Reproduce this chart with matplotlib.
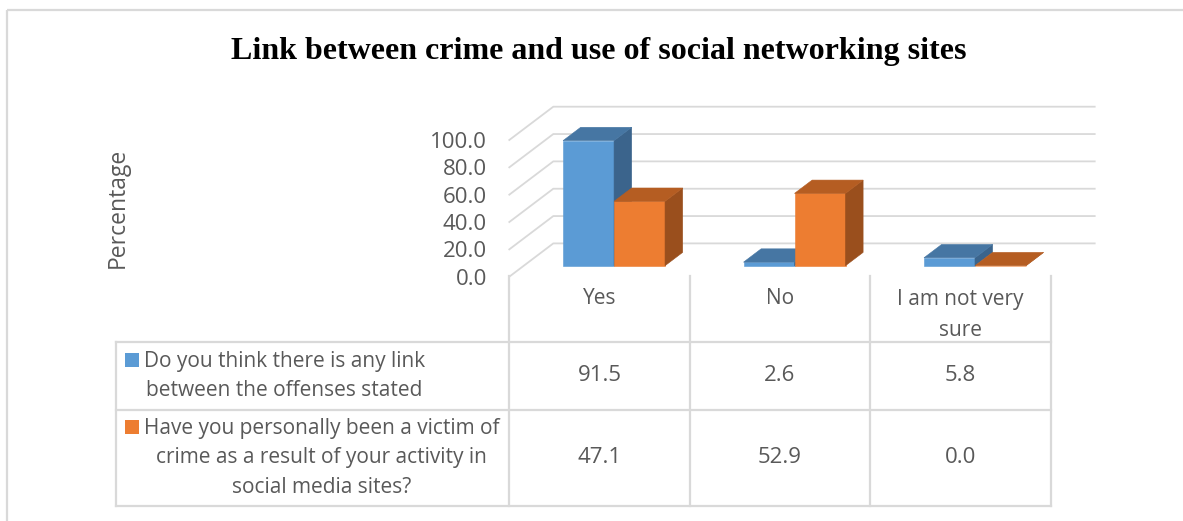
import matplotlib
matplotlib.use("Agg")
import matplotlib.pyplot as plt
from matplotlib.patches import Polygon, Rectangle

# --- data ---------------------------------------------------------------------
TITLE = "Link between crime and use of social networking sites"
categories = ["Yes", "No", "I am not very\nsure"]
series_labels = [
    "Do you think there is any link\nbetween the offenses stated",
    "Have you personally been a victim of\ncrime as a result of your activity in\nsocial media sites?",
]
link_values = [91.5, 2.6, 5.8]
victim_values = [47.1, 52.9, 0.0]
y_ticks = [0, 20, 40, 60, 80, 100]

# --- look ---------------------------------------------------------------------
W, H = 1183, 521
TEXT = "#595959"
GRID = "#D9D9D9"
FONT = "Open Sans"
LABEL_SIZE = 15
NUM_SIZE = 16
LINE_PX = 31       # line pitch of wrapped labels, pixels
# (front, top, side) shades for the pseudo-3D columns
BLUE = ("#5B9BD5", "#4676A3", "#3B648C")
ORANGE = ("#ED7D31", "#B55D22", "#9A4F1D")

# chart box in pixels (front plane of the floor)
PX_LEFT, PX_RIGHT = 509.3, 1050.7
PX_ZERO, PX_TOP = 276.7, 140.0
# depth offset of the back wall, pixels
DEPTH_PX = (44.0, 33.3)
BAR_Z0 = 0.33      # bar front as a fraction of the floor depth
BAR_DEPTH = 0.40   # bar depth as a fraction of the floor depth
BAR_W = 0.2825     # bar width in category units


def fx(px):
    return px / W


def fy(py):
    return 1 - py / H


def draw_bar(ax, x0, value, colors, dx, dy):
    front, top, side = colors
    x = x0 + BAR_Z0 * dx
    y = BAR_Z0 * dy
    bx, by = BAR_DEPTH * dx, BAR_DEPTH * dy
    kw = dict(clip_on=False, linewidth=0.4)
    ax.add_patch(Rectangle((x, y), BAR_W, value, facecolor=front,
                           edgecolor=front, **kw))
    ax.add_patch(Polygon([(x + BAR_W, y), (x + BAR_W + bx, y + by),
                          (x + BAR_W + bx, y + value + by),
                          (x + BAR_W, y + value)],
                         facecolor=side, edgecolor=side, **kw))
    ax.add_patch(Polygon([(x, y + value), (x + BAR_W, y + value),
                          (x + BAR_W + bx, y + value + by),
                          (x + bx, y + value + by)],
                         facecolor=top, edgecolor=top, **kw))


def wrapped(ax, x, y_first, text, ha="center"):
    # one text per line so the pitch matches the Excel table exactly
    for k, line in enumerate(text.split("\n")):
        ax.text(x, y_first + k * LINE_PX, line, ha=ha, va="center",
                fontsize=LABEL_SIZE, color=TEXT, family=FONT)


fig = plt.figure(figsize=(W / 100, H / 100), dpi=100)

# overlay in pixel coordinates for frame, title and data table
ov = fig.add_axes([0, 0, 1, 1])
ov.set_xlim(0, W)
ov.set_ylim(H, 0)
ov.axis("off")

ov.add_patch(Rectangle((7, 10), W + 20, H + 20, fill=False,
                       edgecolor=GRID, linewidth=1.6))
ov.text(599, 51, TITLE, ha="center", va="center", fontsize=23,
        fontweight="bold", family="Liberation Serif", color="black")

# chart axes: x in category units, y in percent (front plane)
ax = fig.add_axes([fx(PX_LEFT), fy(PX_ZERO), fx(PX_RIGHT - PX_LEFT),
                   (PX_ZERO - PX_TOP) / H])
ax.set_xlim(0, len(categories))
ax.set_ylim(0, 100)
ax.patch.set_visible(False)
for s in ax.spines.values():
    s.set_visible(False)
ax.set_xticks([])
ax.set_yticks(y_ticks)
ax.set_yticklabels([f"{v:.1f}" for v in y_ticks])
ax.tick_params(axis="y", length=0, pad=16, labelsize=NUM_SIZE,
               labelcolor=TEXT)
for lab in ax.get_yticklabels():
    lab.set_family(FONT)

cat_px = (PX_RIGHT - PX_LEFT) / len(categories)
val_px = (PX_ZERO - PX_TOP) / 100
dx = DEPTH_PX[0] / cat_px
dy = DEPTH_PX[1] / val_px

# back wall gridlines and left wall diagonals
for v in y_ticks:
    ax.plot([0, dx, len(categories) + dx], [v, v + dy, v + dy],
            color=GRID, linewidth=1.3, clip_on=False, zorder=0)

for i, (a, b) in enumerate(zip(link_values, victim_values)):
    centre = i + 0.5
    draw_bar(ax, centre - BAR_W, a, BLUE, dx, dy)
    draw_bar(ax, centre, b, ORANGE, dx, dy)

fig.text(fx(118), fy(208), "Percentage", rotation=90, ha="center",
         va="center", fontsize=16.5, color=TEXT, family=FONT)

# --- data table ---------------------------------------------------------------
col_x = [PX_LEFT + i * cat_px for i in range(len(categories) + 1)]
row_y = [275.7, 341.7, 410.0, 505.7]
tbl_left = 116
lw = 1.6
for x in col_x:
    ov.plot([x, x], [row_y[0], row_y[-1]], color=GRID, linewidth=lw)
for y in row_y[1:]:
    ov.plot([tbl_left, PX_RIGHT], [y, y], color=GRID, linewidth=lw)
ov.plot([tbl_left, tbl_left], [row_y[1], row_y[-1]], color=GRID, linewidth=lw)

for i, cat in enumerate(categories):
    wrapped(ov, col_x[i] + cat_px / 2, 299, cat)

for r, (label, vals, colors) in enumerate(
        zip(series_labels, [link_values, victim_values], [BLUE, ORANGE])):
    top, bottom = row_y[r + 1], row_y[r + 2]
    mid = (top + bottom) / 2
    n_lines = label.count("\n") + 1
    first = mid - (n_lines - 1) * LINE_PX / 2
    # left edge fixed after the legend key, lines centred within the block
    ov.text(144, mid, label, ha="left", va="center", multialignment="center",
            fontsize=LABEL_SIZE, color=TEXT, family=FONT, linespacing=1.53)
    ov.add_patch(Rectangle((125, first - 7), 14, 14, facecolor=colors[0],
                           edgecolor="none"))
    for i, v in enumerate(vals):
        ov.text(col_x[i] + cat_px / 2, mid, f"{v:.1f}", ha="center",
                va="center", fontsize=NUM_SIZE, color=TEXT, family=FONT)

fig.savefig("out.png", dpi=100)
plt.close(fig)
